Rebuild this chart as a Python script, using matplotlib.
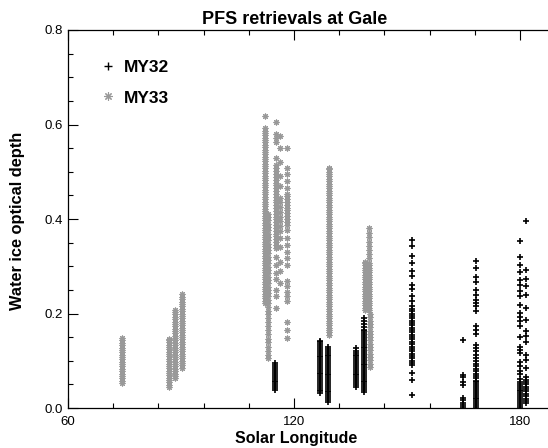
import matplotlib
matplotlib.use("Agg")
import matplotlib.pyplot as plt
from matplotlib.lines import Line2D
from matplotlib.ticker import MultipleLocator

plt.rcParams['font.family'] = ['Liberation Sans', 'DejaVu Sans']

# MY33 columns: water ice optical depth values, one list per Ls column
my33_074 = [0.053, 0.058, 0.063, 0.068, 0.073, 0.078, 0.083, 0.088, 0.093, 0.098, 0.103, 0.108, 0.113, 0.118,
            0.123, 0.128, 0.133, 0.138, 0.143, 0.148]
my33_087 = [0.044, 0.049, 0.054, 0.059, 0.064, 0.069, 0.074, 0.079, 0.084, 0.089, 0.094, 0.099, 0.104, 0.109,
            0.114, 0.119, 0.124, 0.129, 0.134, 0.139, 0.144, 0.147]
my33_088 = [0.063, 0.068, 0.073, 0.078, 0.083, 0.088, 0.093, 0.098, 0.103, 0.108, 0.113, 0.118, 0.123, 0.128,
            0.133, 0.138, 0.143, 0.148, 0.153, 0.158, 0.163, 0.168, 0.173, 0.178, 0.183, 0.188, 0.193, 0.198,
            0.203, 0.207]
my33_090 = [0.085, 0.090, 0.095, 0.100, 0.105, 0.110, 0.115, 0.120, 0.125, 0.130, 0.135, 0.140, 0.145, 0.150,
            0.155, 0.160, 0.165, 0.170, 0.175, 0.180, 0.185, 0.190, 0.195, 0.200, 0.205, 0.210, 0.215, 0.220,
            0.225, 0.230, 0.235, 0.241]
my33_112 = [0.222, 0.227, 0.232, 0.237, 0.242, 0.247, 0.252, 0.257, 0.262, 0.267, 0.272, 0.277, 0.282, 0.287,
            0.292, 0.297, 0.302, 0.307, 0.312, 0.317, 0.322, 0.327, 0.332, 0.337, 0.342, 0.347, 0.352, 0.357,
            0.362, 0.367, 0.372, 0.377, 0.382, 0.387, 0.392, 0.397, 0.402, 0.407, 0.412, 0.417, 0.422, 0.427,
            0.432, 0.437, 0.442, 0.447, 0.452, 0.457, 0.462, 0.467, 0.472, 0.477, 0.482, 0.487, 0.492, 0.497,
            0.502, 0.507, 0.512, 0.517, 0.522, 0.527, 0.532, 0.537, 0.542, 0.547, 0.552, 0.557, 0.562, 0.567,
            0.572, 0.577, 0.582, 0.587, 0.592, 0.618]
my33_113 = [0.105, 0.113, 0.121, 0.130, 0.140, 0.147, 0.156, 0.165, 0.174, 0.183, 0.190, 0.198, 0.206, 0.214,
            0.222, 0.229, 0.236, 0.243, 0.250, 0.257, 0.264, 0.271, 0.278, 0.285, 0.292, 0.299, 0.306, 0.313,
            0.320, 0.327, 0.334, 0.341, 0.348, 0.355, 0.362, 0.369, 0.376, 0.383, 0.390, 0.397, 0.404, 0.411]
my33_115 = [0.605, 0.580, 0.571, 0.562, 0.529, 0.515, 0.508, 0.501, 0.495, 0.489, 0.483, 0.477, 0.471, 0.465,
            0.459, 0.453, 0.447, 0.441, 0.435, 0.429, 0.423, 0.417, 0.411, 0.405, 0.399, 0.393, 0.387, 0.381,
            0.375, 0.369, 0.363, 0.357, 0.351, 0.345, 0.339, 0.320, 0.303, 0.285, 0.272, 0.250, 0.236, 0.212]
my33_116 = [0.575, 0.550, 0.520, 0.490, 0.470, 0.445, 0.435, 0.425, 0.415, 0.405, 0.395, 0.385, 0.375, 0.360,
            0.340, 0.310, 0.290, 0.265]
my33_118 = [0.550, 0.508, 0.495, 0.480, 0.465, 0.452, 0.448, 0.442, 0.436, 0.430, 0.424, 0.418, 0.412, 0.406,
            0.400, 0.394, 0.388, 0.376, 0.360, 0.345, 0.330, 0.318, 0.303, 0.268, 0.258, 0.246, 0.236, 0.226,
            0.183, 0.165, 0.148]
my33_129 = [0.155, 0.160, 0.165, 0.170, 0.175, 0.180, 0.185, 0.190, 0.195, 0.200, 0.205, 0.210, 0.215, 0.220,
            0.225, 0.230, 0.235, 0.240, 0.245, 0.250, 0.255, 0.260, 0.265, 0.270, 0.275, 0.280, 0.285, 0.290,
            0.295, 0.300, 0.305, 0.310, 0.315, 0.320, 0.325, 0.330, 0.335, 0.340, 0.345, 0.350, 0.355, 0.360,
            0.365, 0.370, 0.375, 0.380, 0.385, 0.390, 0.395, 0.400, 0.405, 0.410, 0.415, 0.420, 0.425, 0.430,
            0.435, 0.440, 0.445, 0.450, 0.455, 0.460, 0.465, 0.470, 0.475, 0.480, 0.485, 0.490, 0.495, 0.500,
            0.505, 0.508]
my33_139 = [0.207, 0.212, 0.217, 0.222, 0.227, 0.232, 0.237, 0.242, 0.247, 0.252, 0.257, 0.262, 0.267, 0.272,
            0.277, 0.282, 0.287, 0.292, 0.297, 0.302, 0.307, 0.310]
my33_139b = [0.207, 0.212, 0.217, 0.222, 0.227, 0.232, 0.237, 0.242, 0.247, 0.252, 0.257, 0.262, 0.267, 0.272,
             0.277, 0.282, 0.287, 0.292, 0.297, 0.302, 0.307, 0.318, 0.326, 0.335, 0.343, 0.352, 0.362, 0.371,
             0.380]
my33_140 = [0.087, 0.094, 0.101, 0.108, 0.115, 0.122, 0.129, 0.136, 0.143, 0.150, 0.157, 0.164, 0.171, 0.178,
            0.185, 0.192, 0.200]
my33_cols = [(74.3, my33_074), (86.7, my33_087), (88.4, my33_088), (90.2, my33_090),
             (112.2, my33_112), (113.2, my33_113), (115.2, my33_115), (116.2, my33_116),
             (118.1, my33_118), (129.2, my33_129), (138.9, my33_139), (139.8, my33_139b),
             (140.1, my33_140)]

# MY32 columns
my32_115 = [0.038, 0.042, 0.046, 0.050, 0.054, 0.058, 0.062, 0.066, 0.070, 0.074, 0.078, 0.082, 0.086, 0.090,
            0.095]
my32_127 = [0.031, 0.035, 0.039, 0.043, 0.047, 0.051, 0.055, 0.059, 0.063, 0.067, 0.071, 0.075, 0.079, 0.083,
            0.087, 0.091, 0.095, 0.099, 0.103, 0.107, 0.111, 0.115, 0.119, 0.123, 0.127, 0.131, 0.135, 0.139,
            0.142]
my32_129 = [0.013, 0.017, 0.021, 0.025, 0.029, 0.033, 0.037, 0.041, 0.045, 0.049, 0.053, 0.057, 0.061, 0.065,
            0.069, 0.073, 0.077, 0.081, 0.085, 0.089, 0.093, 0.097, 0.101, 0.105, 0.109, 0.113, 0.117, 0.121,
            0.125, 0.130]
my32_136 = [0.045, 0.049, 0.053, 0.057, 0.061, 0.065, 0.069, 0.073, 0.077, 0.081, 0.085, 0.089, 0.093, 0.097,
            0.101, 0.105, 0.109, 0.113, 0.117, 0.121, 0.126]
my32_138 = [0.034, 0.038, 0.042, 0.046, 0.050, 0.054, 0.058, 0.062, 0.066, 0.070, 0.074, 0.078, 0.082, 0.086,
            0.090, 0.094, 0.098, 0.102, 0.106, 0.110, 0.114, 0.118, 0.122, 0.126, 0.130, 0.134, 0.138, 0.142,
            0.146, 0.150, 0.154, 0.158, 0.162, 0.166, 0.172, 0.178, 0.184, 0.190]
my32_151 = [0.356, 0.342, 0.322, 0.307, 0.289, 0.279, 0.261, 0.251, 0.236, 0.226, 0.215, 0.210, 0.205, 0.200,
            0.195, 0.190, 0.185, 0.180, 0.175, 0.170, 0.165, 0.160, 0.155, 0.150, 0.145, 0.140, 0.135, 0.130,
            0.125, 0.120, 0.115, 0.110, 0.105, 0.100, 0.095, 0.090, 0.074, 0.060, 0.028]
my32_164 = [0.144, 0.070, 0.066, 0.056, 0.049, 0.021, 0.016, 0.011, 0.007, 0.003]
my32_168 = [0.312, 0.296, 0.278, 0.267, 0.250, 0.240, 0.228, 0.222, 0.215, 0.205, 0.174, 0.166, 0.157, 0.134,
            0.127, 0.120, 0.113, 0.106, 0.100, 0.094, 0.088, 0.083, 0.078, 0.073, 0.068, 0.063, 0.058, 0.054,
            0.050, 0.046, 0.042, 0.038, 0.034, 0.030, 0.026, 0.022, 0.018, 0.014, 0.010, 0.006, 0.002]
my32_180 = [0.353, 0.320, 0.302, 0.288, 0.270, 0.260, 0.248, 0.236, 0.219, 0.202, 0.193, 0.184, 0.174, 0.150,
            0.130, 0.123, 0.116, 0.098, 0.088, 0.079, 0.071, 0.062, 0.055, 0.051, 0.047, 0.043, 0.039, 0.035,
            0.031, 0.027, 0.023, 0.019, 0.015, 0.011, 0.007, 0.003]
my32_182 = [0.396, 0.292, 0.274, 0.258, 0.240, 0.212, 0.187, 0.162, 0.152, 0.140, 0.112, 0.102, 0.085, 0.065,
            0.060, 0.055, 0.050, 0.045, 0.040, 0.035, 0.030, 0.025, 0.020, 0.015, 0.010]
my32_cols = [(115.0, my32_115), (126.8, my32_127), (129.0, my32_129), (136.4, my32_136),
             (138.6, my32_138), (151.4, my32_151), (164.8, my32_164), (168.2, my32_168),
             (180.1, my32_180), (181.5, my32_182)]

gray = '#999999'
ast = (8, 2, 0)

fig = plt.figure(figsize=(5.48, 4.48), dpi=100)
ax = fig.add_axes([68 / 548, 40 / 448, 489.7 / 548, 378 / 448])

for ls, tau in my33_cols:
    ax.plot([ls] * len(tau), tau, ls='none', marker=ast, ms=4.2, mew=0.8, color=gray)
for ls, tau in my32_cols:
    ax.plot([ls] * len(tau), tau, ls='none', marker='+', ms=4.4, mew=1.2, color='black')

ax.set_xlim(60, 190)
ax.set_ylim(0, 0.8)
ax.set_xticks([60, 120, 180])
ax.xaxis.set_minor_locator(MultipleLocator(12))
ax.set_yticks([0.0, 0.2, 0.4, 0.6, 0.8])
ax.set_yticklabels(['0.0', '0.2', '0.4', '0.6', '0.8'])
ax.yaxis.set_minor_locator(MultipleLocator(0.05))
ax.tick_params(which='both', direction='in', top=True, right=True, labelsize=9.5)
ax.tick_params(which='major', length=7, width=0.8)
ax.tick_params(which='minor', length=3.6, width=0.8)
ax.tick_params(axis='x', which='major', pad=6)
ax.tick_params(axis='y', which='major', pad=3.6)
for sp in ax.spines.values():
    sp.set_linewidth(0.9)

ax.set_title('PFS retrievals at Gale', fontsize=13, fontweight='bold', x=0.4635, pad=4)
ax.set_xlabel('Solar Longitude', fontsize=11.5, fontweight='bold')
ax.xaxis.set_label_coords(0.4655, -0.062)
ax.set_ylabel('Water ice optical depth', fontsize=11.8, fontweight='bold')
ax.yaxis.set_label_coords(-0.088, 0.495)

handles = [Line2D([], [], ls='none', marker='+', ms=6, mew=1.0, color='black'),
           Line2D([], [], ls='none', marker=ast, ms=6, mew=0.8, color=gray)]
ax.legend(handles, ['MY32', 'MY33'], loc='upper left', bbox_to_anchor=(0.0325, 0.963), frameon=False,
          prop={'weight': 'bold', 'size': 12.5}, handlelength=1.0, handletextpad=0.4, labelspacing=0.9)

fig.savefig('out.png', dpi=100)
